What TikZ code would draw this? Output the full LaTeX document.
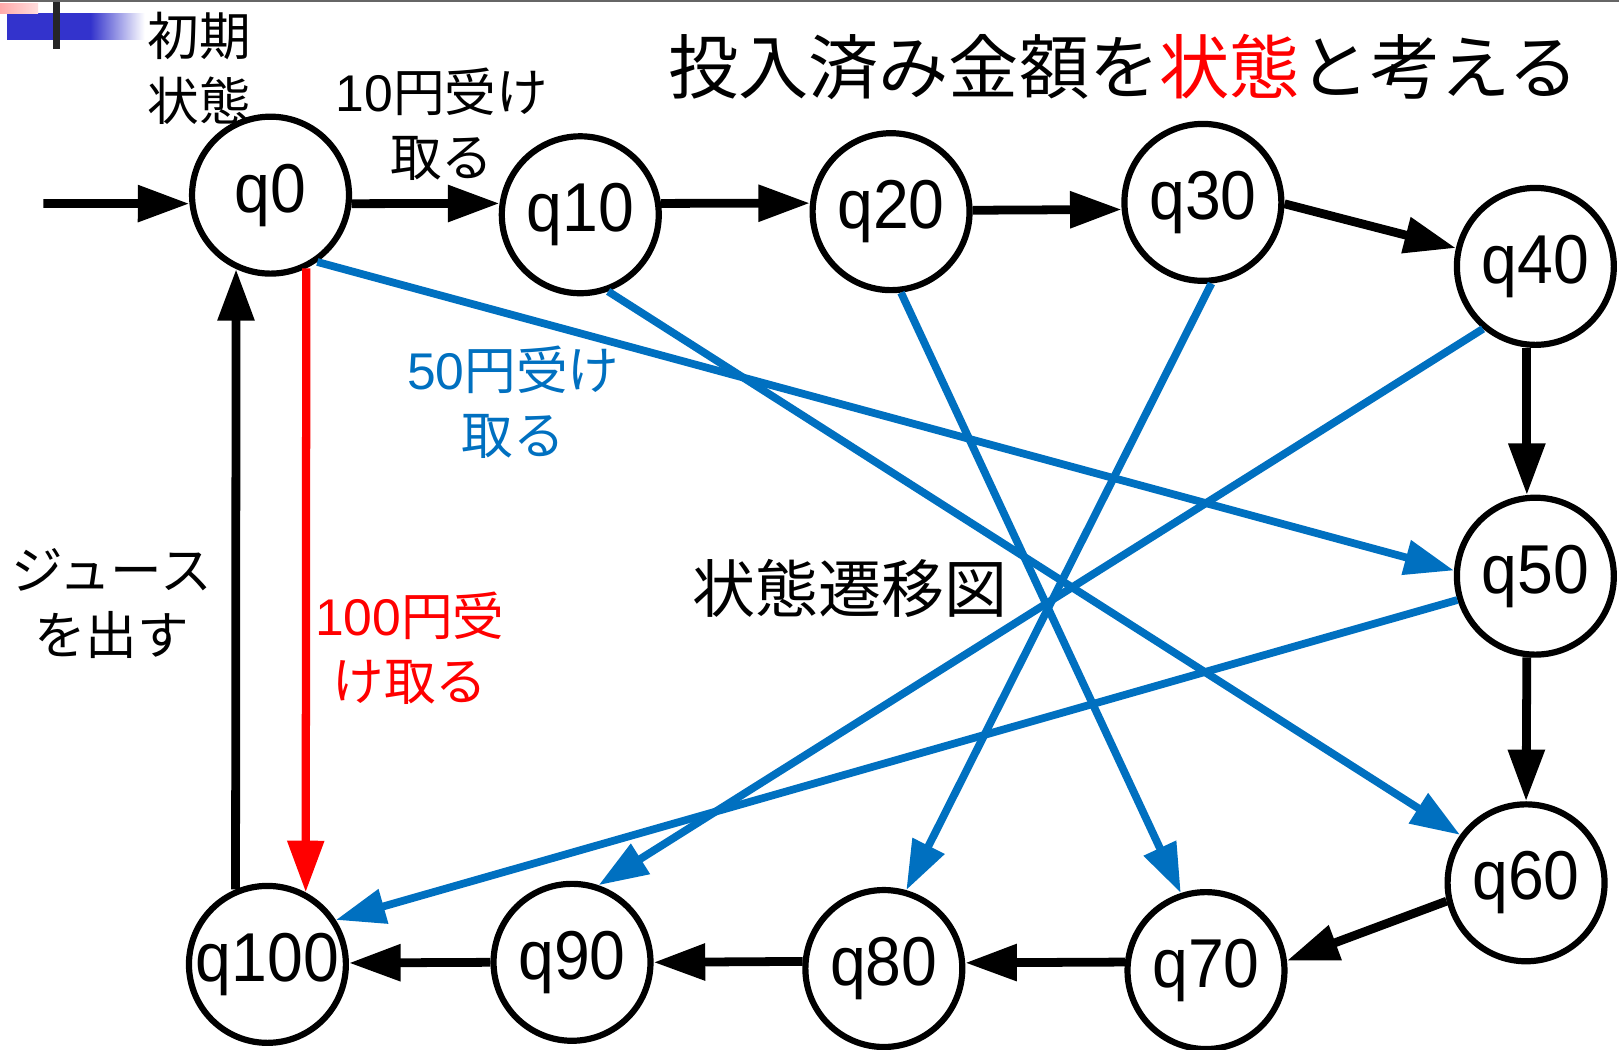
\documentclass[tikz,border=0pt]{standalone}
\usepackage{fontspec}
\usepackage{graphicx}
\setmainfont{Liberation Sans}
\newfontfamily\jp{Noto Sans CJK JP}
\usetikzlibrary{arrows.meta}
\definecolor{myblue}{RGB}{0,112,192}
\definecolor{barblue}{RGB}{51,51,204}
\definecolor{mypink}{RGB}{255,170,170}
\newcommand{\qlab}[1]{\scalebox{0.93}[1]{#1}}
\begin{document}
\begin{tikzpicture}[x=1pt,y=-1pt,
  state/.style={circle,draw,line width=6pt,minimum size=152pt,inner sep=0pt,
    font=\fontsize{67}{67}\selectfont},
  tr/.style={line width=8.5pt,-{Triangle[length=50pt,width=34pt]}},
  btr/.style={line width=7.5pt,myblue,-{Triangle[length=48pt,width=33pt]}},
  lbl/.style={align=center,inner sep=0pt,font=\jp\fontsize{50}{63}\selectfont}]
\useasboundingbox (0,0) rectangle (1568,1016);
\fill[white] (0,0) rectangle (1568,1016);
% corner decoration
\fill[barblue] (7,12.6) rectangle (88,38.7);
\shade[left color=barblue,right color=white] (87.5,12.6) rectangle (140,38.7);
\shade[left color=mypink,right color=mypink!40] (0,3) rectangle (37,12.6);
\fill[black!85] (51,0) rectangle (58,47);
\draw[black!60,line width=1.5pt] (0,0.75) -- (1568,0.75);
% states
\node[state] (q0) at (262,189) {\qlab{q0}};
\node[state] (q10) at (562,208) {\qlab{q10}};
\node[state] (q20) at (863,205) {\qlab{q20}};
\node[state] (q30) at (1165,196) {\qlab{q30}};
\node[state] (q40) at (1487,258) {\qlab{q40}};
\node[state] (q50) at (1487,558) {\qlab{q50}};
\node[state] (q60) at (1478,855) {\qlab{q60}};
\node[state] (q70) at (1168,940) {\qlab{q70}};
\node[state] (q80) at (856,938) {\qlab{q80}};
\node[state] (q90) at (554,932) {\qlab{q90}};
\node[state] (q100) at (259,934) {\qlab{q100}};
\coordinate (init) at (42,197);
% labels
\node[lbl] (lstart) at (193,66) {初期\\状態};
\node[lbl] (l10) at (428,120) {{\rmfamily 10}円受け\\取る};
\node[lbl,text=myblue] (l50) at (497,390) {{\rmfamily 50}円受け\\取る};
\node[lbl,text=red] (l100) at (397,628) {{\rmfamily 100}円受\\け取る};
\node[lbl] (ljuice) at (108,585) {ジュース\\を出す};
\node[inner sep=0pt,font=\jp\fontsize{61}{61}\selectfont] (ldiag) at (823,570) {状態遷移図};
\node[inner sep=0pt,font=\jp\fontsize{68}{80}\selectfont] (title) at (1088,65)
  {投入済み金額を\textcolor{red}{状態}と考える};
% black transitions
\draw[tr] (init) -- (q0.186);
\draw[tr] (q0.-6) -- (q10.172);
\draw[tr] (q10.8) -- (q20.174);
\draw[tr] (q20.1.5) -- (q30.185);
\draw[tr] (q30.-1) -- (q40.167);
\draw[tr] (q40.-96.6) -- (q50.96.6);
\draw[tr] (q50.-96.6) -- (q60.90);
\draw[tr] (q60.193) -- (q70.7);
\draw[tr] (q70.174) -- (q80.4.4);
\draw[tr] (q80.175.6) -- (q90.0);
\draw[tr] (q90.180) -- (q100.1.5);
\draw[tr] (q100.113) -- (q0.-115.5);
% red
\draw[tr,red,line width=8pt] (q0.-64) -- (q100.62);
% blue
\draw[btr] (q0.-55.7) -- (q50.176);
\draw[btr] (q10.-70) -- (q60.144);
\draw[btr] (q20.-83) -- (q70.108);
\draw[btr] (q30.-84) -- (q80.74.5);
\draw[btr] (q40.-130) -- (q90.71);
\draw[btr] (q50.-163) -- (q100.33.5);
\end{tikzpicture}
\end{document}
